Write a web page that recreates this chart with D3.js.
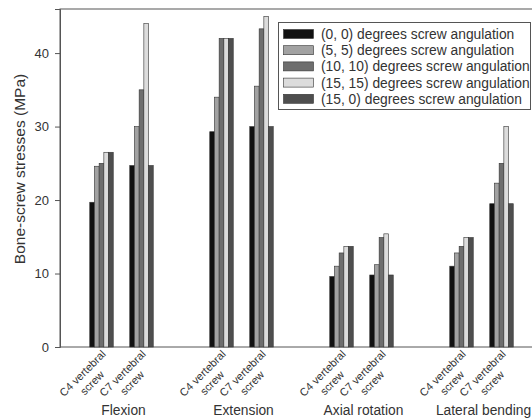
<!DOCTYPE html>
<html>
<head>
<meta charset="utf-8">
<script src="https://cdn.jsdelivr.net/npm/d3@7"></script>
<style>
  html, body { margin: 0; padding: 0; background: #fff; }
  svg { display: block; font-family: "Liberation Sans", Arial, sans-serif; }
</style>
</head>
<body>
<svg id="chart" width="532" height="420"></svg>
<script>
// Loading cases and screw positions
const motions = ["Flexion", "Extension", "Axial rotation", "Lateral bending"];
const screws = ["C4 vertebral screw", "C7 vertebral screw"];
const seriesNames = [
  "(0, 0) degrees screw angulation",
  "(5, 5) degrees screw angulation",
  "(10, 10) degrees screw angulation",
  "(15, 15) degrees screw angulation",
  "(15, 0) degrees screw angulation"
];
const seriesColors = ["#111111", "#a2a2a2", "#6e6e6e", "#dcdcdc", "#4e4e4e"];

// Bone-screw stress (MPa) per series, ordered motion by motion, C4 then C7
const angle0_0   = [19.7, 24.7, 29.3, 30.0,  9.6,  9.8, 11.0, 19.5];
const angle5_5   = [24.6, 30.0, 34.0, 35.5, 11.0, 11.2, 12.8, 22.3];
const angle10_10 = [25.0, 35.0, 42.0, 43.3, 12.8, 14.9, 13.7, 25.0];
const angle15_15 = [26.5, 44.0, 42.0, 45.0, 13.7, 15.4, 14.9, 30.0];
const angle15_0  = [26.5, 24.7, 42.0, 30.0, 13.7,  9.8, 14.9, 19.5];
const seriesValues = [angle0_0, angle5_5, angle10_10, angle15_15, angle15_0];

const yTicks = [0, 10, 20, 30, 40];

// Slot position of each bar group (an empty slot separates motions)
const groupSlots = [0, 1, 3, 4, 6, 7, 9, 10];

const svg = d3.select("#chart");
const plotLeft = 60, plotTop = 9, plotBottom = 347, plotRight = 560;

const y = d3.scaleLinear().domain([0, 46]).range([plotBottom, plotTop]);
const x = d3.scaleLinear().domain([0, 10]).range([101.5, 501.5]);
const barW = 4.7;

// Frame
svg.append("rect")
  .attr("x", plotLeft).attr("y", plotTop)
  .attr("width", plotRight - plotLeft).attr("height", plotBottom - plotTop)
  .attr("fill", "none").attr("stroke", "#555").attr("stroke-width", 1);

// Bars
const bars = [];
seriesValues.forEach((vals, si) => {
  vals.forEach((v, gi) => bars.push({ si, gi, v }));
});
svg.append("g").selectAll("rect").data(bars).join("rect")
  .attr("x", d => x(groupSlots[d.gi]) + (d.si - 2.5) * barW)
  .attr("y", d => y(d.v))
  .attr("width", barW)
  .attr("height", d => y(0) - y(d.v))
  .attr("fill", d => seriesColors[d.si])
  .attr("stroke", "#333")
  .attr("stroke-width", 0.6);

// Y axis
const yAxis = svg.append("g")
  .attr("transform", `translate(${plotLeft},0)`)
  .call(d3.axisLeft(y).tickValues(yTicks).tickSize(5).tickPadding(6));
yAxis.select(".domain").attr("stroke", "#555");
yAxis.selectAll(".tick line").attr("stroke", "#555");
yAxis.selectAll(".tick text")
  .attr("font-size", 13).attr("fill", "#333")
  .attr("font-family", "Liberation Sans, Arial, sans-serif");

svg.append("text")
  .attr("transform", `translate(25,169) rotate(-90)`)
  .attr("text-anchor", "middle")
  .attr("font-size", 15.5).attr("fill", "#333")
  .text("Bone-screw stresses (MPa)");

// Rotated screw labels (two centred lines)
const screwLabels = groupSlots.map((s, gi) => ({ s, name: screws[gi % 2] }));
const lab = svg.append("g").selectAll("text").data(screwLabels).join("text")
  .attr("transform", d => `translate(${x(d.s)},${plotBottom}) rotate(-45)`)
  .attr("text-anchor", "middle")
  .attr("font-size", 11).attr("fill", "#333");
lab.each(function(d) {
  const words = d.name.split(" ");
  const t = d3.select(this);
  t.append("tspan").attr("x", -32).attr("y", 9).text(words.slice(0, 2).join(" "));
  t.append("tspan").attr("x", -32).attr("y", 22.5).text(words[2]);
});

// Motion labels
svg.append("g").selectAll("text").data(motions).join("text")
  .attr("x", (d, i) => (x(groupSlots[i * 2]) + x(groupSlots[i * 2 + 1])) / 2 + 2)
  .attr("y", 415)
  .attr("text-anchor", "middle")
  .attr("font-size", 13.8).attr("fill", "#333")
  .text(d => d);

// Legend
const legend = svg.append("g");
legend.append("rect")
  .attr("x", 278.5).attr("y", 22.5).attr("width", 252).attr("height", 87)
  .attr("fill", "#fff").attr("stroke", "#555").attr("stroke-width", 1);
const items = legend.selectAll("g.item").data(seriesNames).join("g")
  .attr("class", "item")
  .attr("transform", (d, i) => `translate(0,${34 + i * 16.2})`);
items.append("rect")
  .attr("x", 283.5).attr("y", -4.5).attr("width", 30).attr("height", 9)
  .attr("fill", (d, i) => seriesColors[i]).attr("stroke", "#333").attr("stroke-width", 0.6);
items.append("text")
  .attr("x", 321).attr("y", 5)
  .attr("font-size", 13.8).attr("fill", "#333")
  .text(d => d);
</script>
</body>
</html>
